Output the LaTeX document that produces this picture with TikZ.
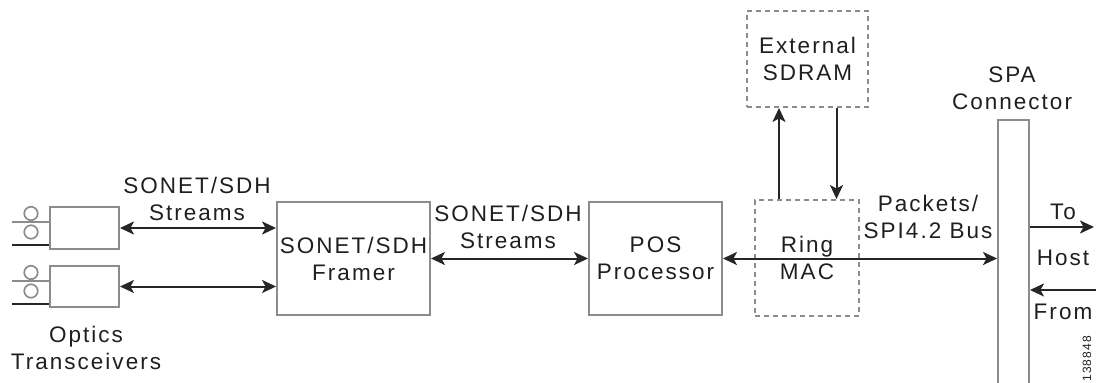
\documentclass[tikz,border=0pt]{standalone}
\usepackage{fontspec}
\setmainfont[LetterSpace=9]{Liberation Sans}
\usetikzlibrary{arrows.meta}
\definecolor{boxgray}{HTML}{8C8C8C}
\definecolor{arrdark}{HTML}{262626}
\begin{document}
\begin{tikzpicture}[x=1pt,y=-1pt,
  font=\fontsize{22.5}{27}\selectfont,
  box/.style={draw=boxgray, line width=1.9pt, inner sep=0pt},
  dbox/.style={draw=boxgray, line width=1.9pt, dash pattern=on 5pt off 4pt, inner sep=0pt},
  arr/.style={draw=arrdark, line width=2pt, -{Stealth[length=14pt,width=13pt,inset=3.5pt]}},
  darr/.style={arr, {Stealth[length=14pt,width=13pt,inset=3.5pt]}-{Stealth[length=14pt,width=13pt,inset=3.5pt]}},
  lbl/.style={align=center, inner sep=0pt, text=black!88},
  fib/.style={draw=boxgray, line width=1.7pt},
  fibd/.style={draw=arrdark, line width=1.7pt}]
\useasboundingbox (0,0) rectangle (1096,383);

% optics transceivers
\node[box, minimum width=69pt, minimum height=42pt] (t1) at (84.5,228) {};
\node[box, minimum width=69pt, minimum height=41pt] (t2) at (84.5,286.5) {};
\coordinate (f1a) at (12,222);
\coordinate (f1b) at (12,245);
\coordinate (f2a) at (12,281);
\coordinate (f2b) at (12,304);
\draw[fib] (f1a) -- (f1a -| t1.west);
\draw[fibd] (f1b) -- (f1b -| t1.west);
\draw[fib] (f2a) -- (f2a -| t2.west);
\draw[fibd] (f2b) -- (f2b -| t2.west);
\node[fib, circle, minimum size=13.5pt, inner sep=0pt, fill=white] (c1) at (31,213.5) {};
\node[fib, circle, minimum size=13.5pt, inner sep=0pt, fill=white] (c2) at (31,232) {};
\node[fib, circle, minimum size=13.5pt, inner sep=0pt, fill=white] (c3) at (31,272.5) {};
\node[fib, circle, minimum size=13.5pt, inner sep=0pt, fill=white] (c4) at (31,291) {};

% main blocks
\node[box, minimum width=153pt, minimum height=113pt, lbl] (framer) at (353.5,258.5) {SONET/SDH\\Framer};
\node[box, minimum width=133pt, minimum height=113pt, lbl] (pos) at (655.5,258.5) {POS\\Processor};
\node[dbox, minimum width=104pt, minimum height=116pt, lbl] (ring) at (807,258) {Ring\\MAC};
\node[dbox, minimum width=121pt, minimum height=96pt, lbl] (sdram) at (807.5,59) {External\\SDRAM};
\node[box, minimum width=31pt, minimum height=275pt] (conn) at (1013.5,257.5) {};

% labels
\node[lbl] (l1) at (197,198.5) {SONET/SDH\\Streams};
\node[lbl] (l2) at (508,226.5) {SONET/SDH\\Streams};
\node[lbl] (l3) at (86,347.5) {Optics\\Transceivers};
\node[lbl] (l4) at (1012,88.5) {SPA\\Connector};
\node[lbl] (l5) at (928,217) {Packets/\\SPI4.2 Bus};
\node[lbl] (lto) at (1063,212) {To};
\node[lbl] (lhost) at (1063,258) {Host};
\node[lbl] (lfrom) at (1063,312) {From};
\node[lbl, rotate=90, font=\fontsize{12}{14}\selectfont] (fig) at (1087,359) {138848};

% connectors
\draw[darr] (t1.east) -- (framer.west |- t1.east);
\draw[darr] (t2.east) -- (framer.west |- t2.east);
\draw[darr] (framer.east) -- (pos.west);
\draw[darr] (pos.east) -- (conn.west |- pos.east);
\draw[arr] ([xshift=-28pt]ring.north) -- ([xshift=-28pt]ring.north |- sdram.south);
\draw[arr] ([xshift=29pt]sdram.south) -- ([xshift=29pt]sdram.south |- ring.north);
\coordinate (toend) at (1094,227);
\coordinate (fromstart) at (1096,290);
\draw[arr] (toend -| conn.east) -- (toend);
\draw[arr] (fromstart) -- (fromstart -| conn.east);
\end{tikzpicture}
\end{document}
